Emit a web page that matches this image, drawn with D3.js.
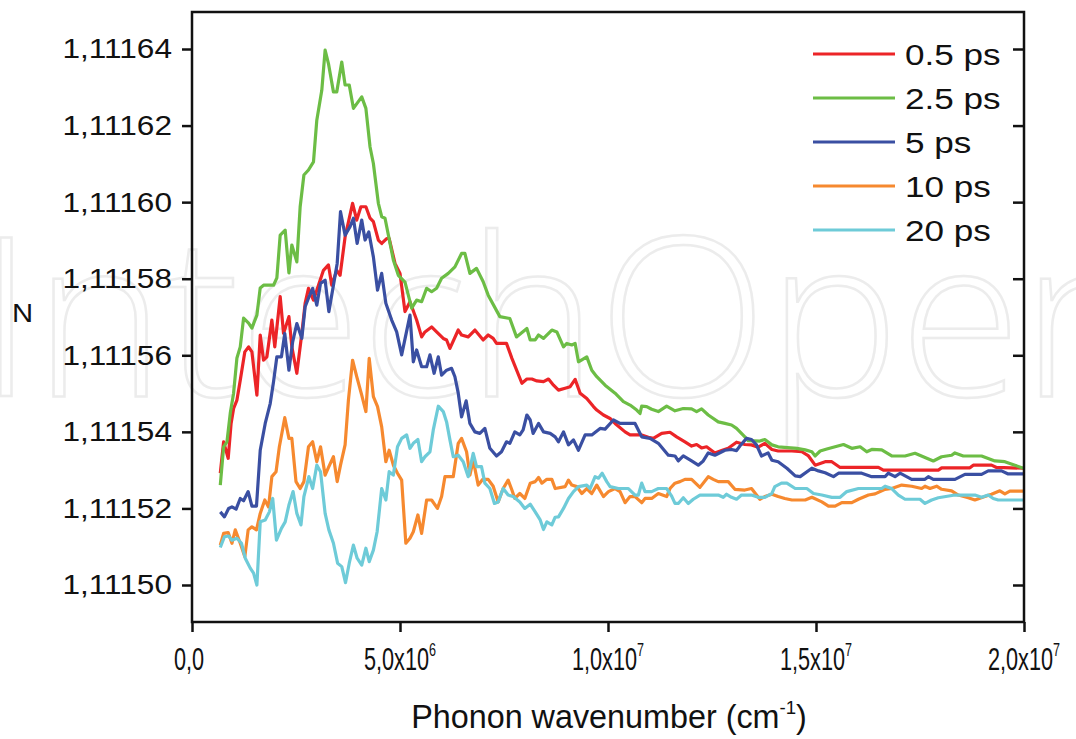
<!DOCTYPE html>
<html>
<head>
<meta charset="utf-8">
<title>N vs phonon wavenumber</title>
<script src="https://cdn.jsdelivr.net/npm/d3@7"></script>
<style>

html, body {
  margin: 0;
  background: #fff;
}

svg {
  display: block;
  font-family: "Liberation Sans", Arial, sans-serif;
}

.series {
  fill: none;
  stroke-width: 3.2;
  stroke-linejoin: round;
}

.tick line, .frame {
  stroke: #111;
  stroke-width: 2.5;
}

</style>
</head>
<body>
<script>

// x values in units of 1e6 cm^-1, y values as (N - N0) * 1e5
var N0 = 1.11150;

var seriesNames = ["0.5 ps", "2.5 ps", "5 ps", "10 ps", "20 ps"];
var seriesColors = ["#ec2427", "#6cbd45", "#3a4fa2", "#f6892f", "#6ecbd8"];

var xTicks = [0, 5e6, 1e7, 1.5e7, 2e7];
var xTickLabels = [["0,0", ""], ["5,0x10", "6"], ["1,0x10", "7"], ["1,5x10", "7"], ["2,0x10", "7"]];
var yTicks = [1.11150, 1.11152, 1.11154, 1.11156, 1.11158, 1.11160, 1.11162, 1.11164];

var red = [[0.68,2.92],[0.76,3.74],[0.87,3.31],[0.94,4.22],[1.00,4.61],[1.08,4.83],[1.16,5.35],[1.27,6.09],[1.36,6.22],[1.44,6.09],
  [1.56,4.96],[1.64,6.53],[1.72,5.87],[1.80,5.96],[1.92,6.92],[1.99,6.22],[2.12,7.53],[2.20,6.57],[2.33,7.01],[2.40,6.22],
  [2.52,5.53],[2.64,6.57],[2.72,7.36],[2.80,7.75],[2.92,7.44],[3.04,7.83],[3.16,8.22],[3.28,8.36],[3.36,7.83],[3.48,8.22],
  [3.56,8.09],[3.68,9.09],[3.86,9.97],[3.96,9.53],[4.06,9.88],[4.18,9.88],[4.28,9.58],[4.36,9.49],[4.48,9.01],[4.56,8.92],
  [4.68,9.05],[4.74,9.05],[4.88,8.40],[5.00,8.14],[5.12,7.14],[5.24,7.40],[5.40,6.92],[5.52,6.48],[5.60,6.61],[5.76,6.74],
  [5.88,6.61],[6.04,6.44],[6.12,6.40],[6.20,6.18],[6.40,6.66],[6.48,6.53],[6.64,6.48],[6.80,6.66],[7.00,6.40],[7.12,6.53],
  [7.24,6.44],[7.32,6.31],[7.56,6.31],[7.69,5.92],[7.93,5.27],[8.05,5.38],[8.17,5.38],[8.29,5.33],[8.45,5.31],[8.57,5.38],
  [8.69,5.22],[8.81,5.09],[8.97,5.14],[9.09,5.18],[9.21,5.37],[9.33,5.01],[9.49,4.87],[9.65,4.66],[9.73,4.57],[9.89,4.44],
  [10.05,4.35],[10.17,4.22],[10.41,4.00],[10.53,3.92],[10.81,3.92],[10.97,3.86],[11.09,3.83],[11.29,3.96],[11.49,3.99],[11.65,3.87],
  [11.85,3.74],[12.01,3.63],[12.13,3.67],[12.25,3.58],[12.37,3.61],[12.57,3.45],[12.73,3.51],[12.89,3.57],[13.09,3.73],[13.29,3.67],
  [13.45,3.66],[13.61,3.60],[13.77,3.70],[13.94,3.54],[14.09,3.50],[14.42,3.50],[14.66,3.48],[14.82,3.37],[14.98,3.13],[15.22,3.22],
  [15.38,3.22],[15.58,3.07],[16.50,3.07],[16.62,3.00],[17.94,3.00],[18.02,3.06],[18.70,3.06],[18.78,3.13],[19.22,3.13],[19.34,3.07],
  [19.98,3.05]];

var green = [[0.68,2.61],[0.76,3.61],[0.84,3.74],[0.92,4.49],[1.00,5.01],[1.08,5.93],[1.16,6.22],[1.24,6.97],[1.36,6.84],[1.44,6.71],
  [1.56,7.05],[1.64,7.76],[1.72,7.83],[1.96,7.83],[2.04,8.02],[2.12,9.14],[2.24,9.27],[2.33,8.15],[2.40,8.88],[2.52,8.44],
  [2.60,9.88],[2.69,10.71],[2.80,10.84],[2.92,11.05],[3.00,12.14],[3.12,12.92],[3.20,13.97],[3.28,13.62],[3.40,12.88],[3.48,12.88],
  [3.60,13.66],[3.68,13.06],[3.78,13.06],[3.88,12.45],[4.08,12.75],[4.18,12.45],[4.28,11.44],[4.36,11.01],[4.48,9.97],[4.56,9.62],
  [4.64,9.58],[4.84,8.49],[4.96,8.09],[5.12,7.91],[5.28,7.23],[5.40,7.44],[5.52,7.40],[5.64,7.75],[5.76,7.66],[5.88,7.75],
  [6.00,8.01],[6.16,8.14],[6.32,8.31],[6.48,8.66],[6.56,8.66],[6.68,8.14],[6.84,8.27],[7.00,7.92],[7.12,7.57],[7.40,7.01],
  [7.64,6.96],[7.80,6.48],[8.05,6.70],[8.13,6.40],[8.25,6.40],[8.33,6.53],[8.45,6.44],[8.65,6.66],[8.77,6.61],[8.93,6.22],
  [9.01,6.31],[9.13,6.27],[9.21,6.31],[9.29,5.83],[9.49,5.96],[9.61,5.61],[9.73,5.44],[9.93,5.22],[10.17,5.01],[10.37,4.79],
  [10.53,4.70],[10.69,4.57],[10.77,4.48],[10.81,4.67],[10.93,4.66],[11.05,4.59],[11.21,4.53],[11.41,4.67],[11.61,4.55],[11.81,4.61],
  [12.01,4.60],[12.13,4.53],[12.25,4.60],[12.41,4.44],[12.65,4.26],[12.81,4.22],[12.97,4.18],[13.09,4.09],[13.29,3.87],[13.37,3.77],
  [13.65,3.76],[13.77,3.80],[13.94,3.66],[14.09,3.61],[14.54,3.57],[14.74,3.53],[14.90,3.48],[14.98,3.37],[15.10,3.50],[15.26,3.55],
  [15.46,3.61],[15.66,3.67],[15.86,3.57],[16.06,3.61],[16.22,3.48],[16.34,3.54],[16.58,3.53],[16.82,3.37],[17.14,3.37],[17.38,3.44],
  [17.62,3.33],[17.82,3.24],[18.02,3.35],[18.26,3.39],[18.34,3.45],[18.54,3.37],[18.98,3.37],[19.30,3.24],[19.54,3.22],[19.78,3.13],
  [19.98,3.05]];

var blue = [[0.68,1.91],[0.78,1.78],[0.88,2.00],[0.96,2.04],[1.06,1.98],[1.16,2.26],[1.24,2.20],[1.35,2.44],[1.44,2.06],[1.55,2.06],
  [1.64,3.52],[1.76,4.22],[1.88,4.74],[1.96,5.31],[2.04,5.96],[2.15,5.96],[2.23,6.57],[2.33,5.61],[2.42,6.35],[2.52,6.83],
  [2.64,6.44],[2.72,7.27],[2.80,7.49],[2.90,7.75],[3.00,7.31],[3.09,7.88],[3.20,7.96],[3.29,7.14],[3.40,7.83],[3.49,8.40],
  [3.57,9.75],[3.68,9.14],[3.80,9.36],[3.88,9.58],[3.97,8.92],[4.08,9.53],[4.16,9.01],[4.25,9.22],[4.36,8.57],[4.46,7.70],
  [4.56,8.14],[4.66,7.36],[4.80,6.92],[4.92,6.61],[5.04,6.01],[5.24,7.05],[5.32,5.83],[5.40,6.14],[5.52,5.70],[5.64,5.70],
  [5.72,6.01],[5.82,5.53],[5.92,5.96],[6.00,5.48],[6.12,5.61],[6.24,5.66],[6.32,5.44],[6.40,5.01],[6.48,4.39],[6.59,4.81],
  [6.68,4.22],[6.80,4.00],[6.92,3.96],[7.04,4.09],[7.16,3.57],[7.32,3.37],[7.44,3.48],[7.56,3.74],[7.64,3.70],[7.76,4.00],
  [7.88,3.92],[7.96,4.05],[8.05,4.44],[8.13,4.31],[8.20,3.96],[8.33,4.22],[8.45,4.00],[8.61,3.96],[8.73,3.87],[8.81,3.74],
  [8.93,4.00],[9.05,3.66],[9.17,3.79],[9.29,3.52],[9.45,3.92],[9.61,3.92],[9.81,4.09],[9.93,4.07],[10.13,4.31],[10.29,4.22],
  [10.65,4.22],[10.81,3.87],[11.01,3.83],[11.21,3.70],[11.45,3.39],[11.61,3.37],[11.69,3.24],[11.81,3.37],[12.01,3.24],[12.17,3.13],
  [12.29,3.24],[12.41,3.45],[12.57,3.39],[12.81,3.52],[12.97,3.54],[13.09,3.51],[13.17,3.63],[13.33,3.83],[13.45,3.80],[13.57,3.66],
  [13.69,3.37],[13.85,3.45],[13.94,3.26],[14.09,3.22],[14.30,3.05],[14.50,2.85],[14.62,2.83],[14.90,3.05],[15.06,2.98],[15.22,2.93],
  [15.42,2.83],[15.54,2.92],[16.10,2.92],[16.34,2.83],[16.66,2.83],[16.74,2.92],[16.90,2.83],[17.02,2.92],[17.30,2.76],[17.62,2.76],
  [17.70,2.83],[17.82,2.76],[18.34,2.76],[18.58,2.89],[18.98,2.89],[19.14,2.98],[19.46,2.98],[19.62,2.90],[19.98,2.90]];

var orange = [[0.68,1.04],[0.76,1.35],[0.87,1.37],[0.96,1.09],[1.04,1.44],[1.16,1.09],[1.27,0.74],[1.35,1.44],[1.44,1.52],[1.55,1.44],
  [1.64,1.87],[1.75,2.22],[1.84,2.04],[1.92,2.83],[2.02,2.96],[2.10,3.61],[2.23,4.37],[2.33,3.83],[2.40,3.83],[2.50,2.70],
  [2.60,2.52],[2.69,2.70],[2.80,3.61],[2.90,3.74],[3.00,3.22],[3.09,3.61],[3.20,2.87],[3.29,3.09],[3.40,3.35],[3.49,2.70],
  [3.57,3.13],[3.68,3.66],[3.76,4.83],[3.86,5.87],[3.96,5.44],[4.08,4.96],[4.18,4.53],[4.26,5.92],[4.36,4.92],[4.46,4.66],
  [4.56,4.13],[4.66,3.22],[4.74,3.52],[4.84,3.13],[4.94,2.92],[5.04,2.74],[5.14,1.09],[5.24,1.22],[5.32,1.39],[5.43,1.83],
  [5.52,1.35],[5.64,2.22],[5.76,2.22],[5.90,2.00],[6.00,2.31],[6.08,2.83],[6.28,2.83],[6.40,3.70],[6.48,3.83],[6.60,3.48],
  [6.68,2.87],[6.76,3.26],[6.88,2.61],[6.99,2.76],[7.12,2.76],[7.24,2.58],[7.36,2.17],[7.48,2.52],[7.60,2.74],[7.69,2.48],
  [7.76,2.26],[7.88,2.39],[8.00,2.26],[8.13,2.66],[8.25,2.70],[8.33,2.81],[8.41,2.66],[8.53,2.76],[8.65,2.76],[8.73,2.52],
  [8.97,2.57],[9.05,2.74],[9.13,2.61],[9.25,2.57],[9.37,2.39],[9.49,2.52],[9.61,2.39],[9.73,2.61],[9.89,2.31],[10.01,2.44],
  [10.17,2.52],[10.29,2.44],[10.41,2.15],[10.53,2.31],[10.65,2.31],[10.81,2.15],[10.89,2.26],[11.05,2.26],[11.21,2.39],[11.41,2.31],
  [11.49,2.52],[11.61,2.66],[11.73,2.70],[11.85,2.76],[12.01,2.76],[12.21,2.55],[12.41,2.83],[12.53,2.76],[12.65,2.70],[12.89,2.70],
  [13.05,2.50],[13.29,2.48],[13.45,2.52],[13.57,2.35],[13.65,2.24],[13.77,2.31],[13.94,2.37],[14.09,2.31],[14.25,2.26],[14.42,2.22],
  [14.74,2.22],[14.90,2.29],[15.14,2.17],[15.30,2.06],[15.46,2.06],[15.62,2.15],[15.86,2.15],[16.02,2.24],[16.26,2.35],[16.42,2.38],
  [16.66,2.50],[16.82,2.52],[17.06,2.61],[17.30,2.58],[17.54,2.52],[17.62,2.58],[17.74,2.52],[17.90,2.58],[18.02,2.50],[18.26,2.46],
  [18.42,2.35],[18.66,2.28],[18.82,2.22],[19.06,2.31],[19.22,2.37],[19.42,2.46],[19.54,2.38],[19.66,2.45],[19.98,2.45]];

var cyan = [[0.68,0.98],[0.78,1.26],[0.88,1.28],[0.96,1.17],[1.08,1.22],[1.19,1.09],[1.28,0.70],[1.40,0.44],[1.48,0.31],[1.56,0.00],
  [1.64,1.65],[1.76,1.70],[1.86,1.91],[1.94,2.26],[2.03,1.17],[2.15,1.48],[2.24,1.65],[2.33,2.09],[2.43,2.44],[2.52,1.87],
  [2.62,1.57],[2.69,2.31],[2.81,2.83],[2.90,2.52],[3.00,3.13],[3.09,2.96],[3.20,1.87],[3.29,1.44],[3.40,1.09],[3.50,0.57],
  [3.60,0.48],[3.69,0.06],[3.78,0.57],[3.88,1.04],[3.97,0.70],[4.08,0.52],[4.18,0.96],[4.26,0.61],[4.36,0.91],[4.45,1.39],
  [4.56,2.52],[4.66,2.22],[4.74,2.96],[4.84,2.87],[4.94,3.61],[5.04,3.83],[5.16,3.92],[5.24,3.57],[5.32,3.70],[5.43,3.80],
  [5.52,3.22],[5.60,3.35],[5.72,3.48],[5.80,4.05],[5.92,4.67],[6.04,4.53],[6.12,4.26],[6.20,3.79],[6.28,3.35],[6.40,3.39],
  [6.52,3.22],[6.64,2.83],[6.76,3.44],[6.84,3.09],[6.96,3.09],[7.04,2.66],[7.16,2.52],[7.27,2.13],[7.36,2.17],[7.48,2.52],
  [7.60,2.35],[7.72,2.31],[7.88,2.17],[8.00,2.00],[8.13,2.11],[8.25,1.91],[8.37,1.70],[8.45,1.45],[8.53,1.65],[8.65,1.57],
  [8.73,1.77],[8.81,1.78],[8.93,2.00],[9.05,2.26],[9.17,2.44],[9.29,2.57],[9.49,2.61],[9.57,2.52],[9.69,2.83],[9.77,2.79],
  [9.86,2.92],[9.97,2.70],[10.05,2.57],[10.25,2.52],[10.49,2.52],[10.65,2.35],[10.73,2.35],[10.81,2.66],[10.89,2.44],[11.05,2.44],
  [11.21,2.52],[11.41,2.52],[11.53,2.32],[11.61,2.13],[11.69,2.13],[11.81,2.28],[11.93,2.13],[12.05,2.24],[12.21,2.35],[12.65,2.35],
  [12.77,2.29],[12.85,2.37],[12.97,2.29],[13.09,2.24],[13.21,2.35],[13.45,2.35],[13.61,2.29],[13.77,2.29],[13.94,2.39],[14.01,2.57],
  [14.17,2.66],[14.30,2.66],[14.50,2.52],[14.78,2.52],[14.94,2.39],[15.14,2.35],[15.38,2.29],[15.58,2.29],[15.74,2.44],[16.02,2.52],
  [16.58,2.52],[16.66,2.58],[16.82,2.52],[16.98,2.35],[17.14,2.24],[17.50,2.24],[17.62,2.13],[17.78,2.22],[17.94,2.28],[18.34,2.35],
  [18.82,2.35],[18.98,2.29],[19.14,2.35],[19.26,2.26],[19.38,2.22],[19.98,2.22]];

var seriesData = [red, green, blue, orange, cyan];

var width = 1076, height = 739;
var plot = {left: 192, right: 1024, top: 12, bottom: 622};
var textStretch = 1.17;

var svg = d3.select("body")
  .append("svg")
    .attr("width", width)
    .attr("height", height);

var x = d3.scaleLinear()
    .domain([0, 2e7])
    .range([plot.left, plot.right]);

var y = d3.scaleLinear()
    .domain([1.11150, 1.11164])
    .range([585, 49]);

// watermark behind everything
svg.append("text")
    .attr("x", -22)
    .attr("y", 396)
    .style("font-family", "'Open Sans', sans-serif")
    .style("font-weight", 300)
    .style("font-size", "222px")
    .attr("fill", "none")
    .attr("stroke", "#ececec")
    .attr("stroke-width", 2.5)
    .text("IntechOpen");

// series
var line = d3.line()
    .x(function(d) { return x(d[0] * 1e6); })
    .y(function(d) { return y(N0 + d[1] * 1e-5); });

svg.selectAll("path.series")
    .data(seriesData)
  .enter().append("path")
    .attr("class", "series")
    .attr("stroke", function(d, i) { return seriesColors[i]; })
    .attr("d", line);

// frame
svg.append("rect")
    .attr("class", "frame")
    .attr("x", plot.left)
    .attr("y", plot.top)
    .attr("width", plot.right - plot.left)
    .attr("height", plot.bottom - plot.top)
    .attr("fill", "none");

// ticks
svg.append("g")
    .attr("transform", "translate(" + plot.left + ",0)")
    .call(d3.axisLeft(y).tickValues(yTicks).tickSize(10).tickFormat(""));

svg.append("g")
    .attr("transform", "translate(" + plot.right + ",0)")
    .call(d3.axisLeft(y).tickValues(yTicks).tickSize(11).tickFormat(""));

svg.append("g")
    .attr("transform", "translate(0," + plot.bottom + ")")
    .call(d3.axisBottom(x).tickValues(xTicks).tickSize(10).tickFormat(""));

svg.selectAll(".domain").remove();

// y tick labels
svg.selectAll("g.ylab")
    .data(yTicks)
  .enter().append("g")
    .attr("class", "ylab")
    .attr("transform", function(d) { return "translate(172," + y(d) + ") scale(" + textStretch + ",1)"; })
  .append("text")
    .attr("text-anchor", "end")
    .attr("dy", "0.35em")
    .style("font-size", "27px")
    .attr("fill", "#111")
    .text(function(d) { return d.toFixed(5).replace(".", ","); });

// x tick labels (condensed)
var xl = svg.selectAll("g.xlab")
    .data(xTicks)
  .enter().append("g")
    .attr("class", "xlab")
    .attr("transform", function(d) { return "translate(" + (x(d) - (d ? 0 : 3)) + ",670) scale(0.7,1)"; })
  .append("text")
    .attr("text-anchor", "middle")
    .style("font-size", "31px")
    .attr("fill", "#111");

xl.append("tspan")
    .text(function(d, i) { return xTickLabels[i][0]; });

xl.append("tspan")
    .attr("dy", -14)
    .style("font-size", "18px")
    .text(function(d, i) { return xTickLabels[i][1]; });

// axis titles
var xt = svg.append("g")
    .attr("transform", "translate(609,728) scale(0.98,1)")
  .append("text")
    .attr("text-anchor", "middle")
    .style("font-size", "33px")
    .attr("fill", "#111");

xt.append("tspan").text("Phonon wavenumber (cm");
xt.append("tspan").attr("dy", -14).style("font-size", "19px").text("-1");
xt.append("tspan").attr("dy", 14).text(")");

svg.append("g")
    .attr("transform", "translate(12,322) scale(" + textStretch + ",1)")
  .append("text")
    .style("font-size", "25px")
    .attr("fill", "#111")
    .text("N");

// legend
var legend = svg.selectAll("g.legend")
    .data(seriesNames)
  .enter().append("g")
    .attr("class", "legend")
    .attr("transform", function(d, i) { return "translate(813," + (54 + i * 44) + ")"; });

legend.append("line")
    .attr("x1", 0)
    .attr("x2", 82)
    .attr("stroke", function(d, i) { return seriesColors[i]; })
    .attr("stroke-width", 3);

legend.append("g")
    .attr("transform", "translate(92,0) scale(" + textStretch + ",1)")
  .append("text")
    .attr("dy", "0.36em")
    .style("font-size", "30px")
    .attr("fill", "#111")
    .text(function(d) { return d; });

</script>
</body>
</html>
